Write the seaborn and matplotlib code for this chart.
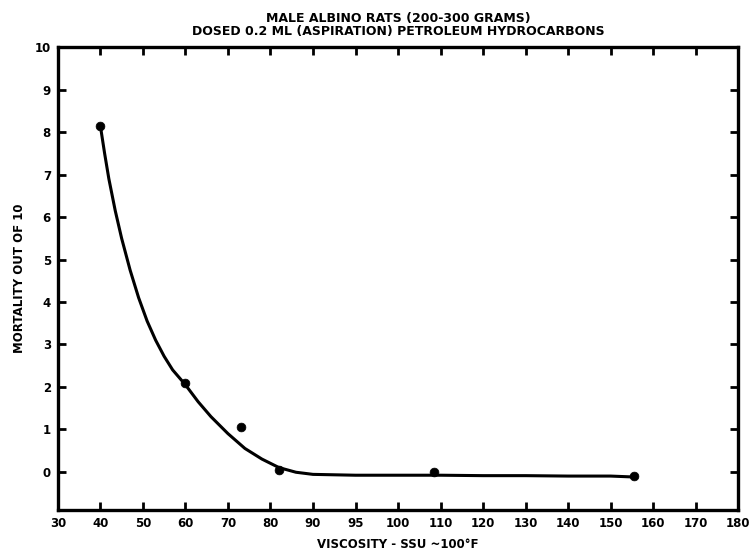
import numpy as np
import pandas as pd
import seaborn as sns
import matplotlib.pyplot as plt

# tick labels as printed on the chart (note the "95" between 90 and 100)
x_tick_labels = [30, 40, 50, 60, 70, 80, 90, 95, 100, 110, 120, 130, 140, 150, 160, 170, 180]
y_ticks = [0, 1, 2, 3, 4, 5, 6, 7, 8, 9, 10]

# observed points (viscosity SSU, deaths out of 10)
visc = [40, 60, 73, 82, 108.5, 155.5]
mortality = [8.15, 2.1, 1.05, 0.05, 0.0, -0.1]

# fitted curve
curve_x = [40, 41, 42, 43.5, 45, 47, 49, 51, 53, 55, 57, 60, 63, 66, 70, 74, 78, 82, 86, 90, 95, 100, 110, 120, 130, 140, 150, 155]
curve_y = [8.15, 7.5, 6.9, 6.15, 5.5, 4.75, 4.1, 3.55, 3.1, 2.72, 2.4, 2.05, 1.65, 1.3, 0.9, 0.55, 0.3, 0.1, -0.01, -0.06, -0.08, -0.08, -0.08, -0.09, -0.09, -0.1, -0.1, -0.12]


def to_pos(v):
    # place a value on the printed tick scale
    return np.interp(v, x_tick_labels[:7] + x_tick_labels[8:], list(range(7)) + list(range(8, 17)))


sns.set_style("ticks")
plt.rcParams['font.family'] = ['DejaVu Sans']
plt.rcParams['font.weight'] = 'bold'
plt.rcParams['text.color'] = 'black'
plt.rcParams['axes.labelcolor'] = 'black'

fig = plt.figure(figsize=(7.51, 5.55), dpi=100)
ax = fig.add_axes([0.077, 0.081, 0.906, 0.834])

pts = pd.DataFrame({'x': to_pos(visc), 'y': mortality})
crv = pd.DataFrame({'x': to_pos(curve_x), 'y': curve_y})

sns.lineplot(data=crv, x='x', y='y', ax=ax, color='black', linewidth=2.2, sort=False)
sns.scatterplot(data=pts, x='x', y='y', ax=ax, color='black', s=40, edgecolor='black', zorder=5)

ax.set_xlim(0, 16)
ax.set_ylim(-0.9, 10)
ax.set_xticks(range(17))
ax.set_xticklabels([str(v) for v in x_tick_labels], fontsize=8.5, fontweight='bold')
ax.set_yticks(y_ticks)
ax.set_yticklabels([str(v) for v in y_ticks], fontsize=8.5, fontweight='bold')
ax.tick_params(direction='in', length=6, width=2, top=True, right=True, pad=5, colors='black')

for s in ax.spines.values():
    s.set_visible(True)
    s.set_linewidth(2.4)
    s.set_color('black')

ax.set_xlabel('VISCOSITY - SSU ~100°F', fontsize=8.5, fontweight='bold', labelpad=6, color='black')
ax.set_ylabel('MORTALITY OUT OF 10', fontsize=8.5, fontweight='bold', labelpad=6, color='black')
ax.set_title('MALE ALBINO RATS (200-300 GRAMS)\nDOSED 0.2 ML (ASPIRATION) PETROLEUM HYDROCARBONS',
             fontsize=9, fontweight='bold', linespacing=1.0, pad=9, color='black')

fig.savefig('out.png', dpi=100)
